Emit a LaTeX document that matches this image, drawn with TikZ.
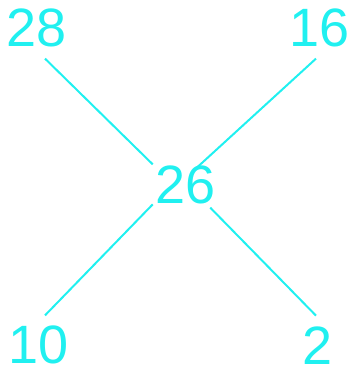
\documentclass[tikz,border=0pt]{standalone}
\usepackage{fontspec}
\setmainfont{Liberation Sans}
\usetikzlibrary{positioning}
\definecolor{tealnum}{RGB}{32,240,240}
\begin{document}
\begin{tikzpicture}[
    x=1pt, y=-1pt,
    num/.style={text=tealnum, font=\fontsize{54}{54}\selectfont, inner sep=0pt},
    edge/.style={draw=tealnum, line width=2pt}
]
\useasboundingbox (0,0) rectangle (351,372);
\node[num] (n28) at (36.5,27.5) {28};
\node[num] (n16) at (320,28) {16};
\node[num] (n26) at (185.5,185) {26};
\node[num] (n10) at (38.5,345) {10};
\node[num] (n2) at (318,346) {2};
\draw[edge] ([xshift=8.5pt,yshift=-11.8pt]n28.south) -- ([xshift=-2.5pt,yshift=1.3pt]n26.north west);
\draw[edge] ([xshift=-4pt,yshift=-11.3pt]n16.south) -- ([xshift=10.5pt,yshift=-2.7pt]n26.north);
\draw[edge] ([xshift=-2.5pt]n26.south west) -- ([xshift=6.5pt,yshift=10.3pt]n10.north);
\draw[edge] ([xshift=-5.5pt,yshift=-3.3pt]n26.south east) -- ([xshift=-2pt,yshift=11.3pt]n2.north);
\end{tikzpicture}
\end{document}
